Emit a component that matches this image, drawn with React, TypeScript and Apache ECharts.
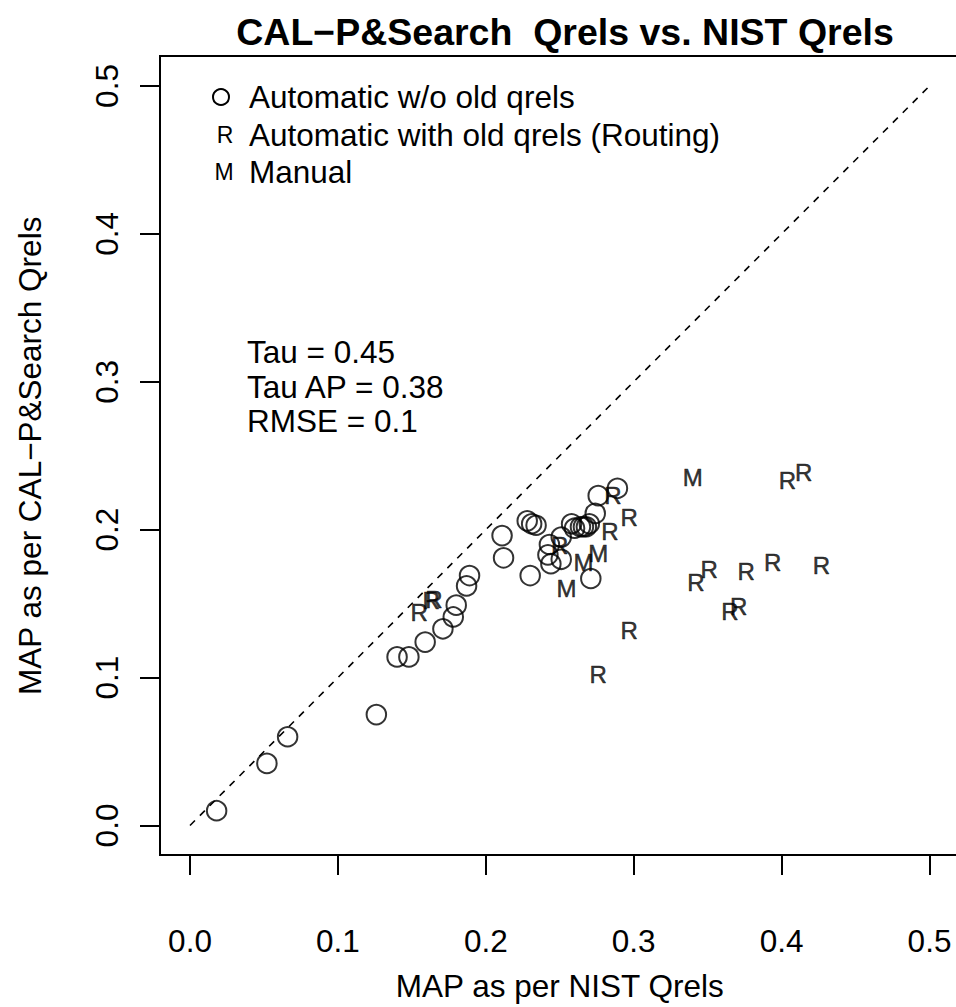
import React, { useEffect, useRef } from "react";
import * as echarts from "echarts";

// ---- data ----
const xTickValues = [0, 0.1, 0.2, 0.3, 0.4, 0.5];

const autoX = [0.018, 0.052, 0.066, 0.126, 0.140, 0.148, 0.159, 0.171, 0.178, 0.180, 0.187, 0.189, 0.211, 0.212, 0.228, 0.231, 0.234, 0.230, 0.243, 0.242, 0.244, 0.251, 0.251, 0.258, 0.260, 0.264, 0.266, 0.268, 0.270, 0.274, 0.276, 0.289, 0.271];
const autoY = [0.010, 0.042, 0.060, 0.075, 0.114, 0.114, 0.124, 0.133, 0.141, 0.149, 0.162, 0.169, 0.196, 0.181, 0.206, 0.204, 0.203, 0.169, 0.190, 0.183, 0.177, 0.180, 0.195, 0.204, 0.201, 0.202, 0.202, 0.202, 0.204, 0.211, 0.223, 0.228, 0.167];

const routX = [0.155, 0.163, 0.165, 0.250, 0.284, 0.286, 0.297, 0.297, 0.276, 0.342, 0.351, 0.376, 0.394, 0.427, 0.365, 0.371, 0.404, 0.415];
const routY = [0.144, 0.152, 0.153, 0.189, 0.199, 0.223, 0.208, 0.132, 0.102, 0.164, 0.173, 0.172, 0.178, 0.176, 0.145, 0.148, 0.233, 0.239];

const manX = [0.2545, 0.266, 0.276, 0.340];
const manY = [0.160, 0.178, 0.184, 0.235];

const refLineX = [0, 0.5];
const refLineY = [0, 0.5];

const legendLabels = ["Automatic w/o old qrels", "Automatic with old qrels (Routing)", "Manual"];
const statLines = ["Tau = 0.45", "Tau AP = 0.38", "RMSE = 0.1"];

const titleText = "CAL\u2212P&Search  Qrels vs. NIST Qrels";
const xName = "MAP as per NIST Qrels";
const yName = "MAP as per CAL\u2212P&Search Qrels";

const FONT = '"Liberation Sans", Arial, Helvetica, sans-serif';
const FS = 31.5;

const zip = (a: number[], b: number[]) => a.map((v, i) => [v, b[i]]);

export default function App() {
  const ref = useRef<HTMLDivElement>(null);
  useEffect(() => {
    if (!ref.current) return;
    const chart = echarts.init(ref.current, undefined, { renderer: "svg" });
    const axisCommon = {
      type: "value" as const,
      min: 0,
      max: 0.5,
      interval: 0.1,
      splitLine: { show: false },
      axisLine: { show: true, onZero: false, lineStyle: { color: "#000", width: 2 } },
      axisTick: { show: true, inside: false, length: 20, lineStyle: { color: "#000", width: 2 } },
      nameLocation: "middle" as const,
      nameGap: 114.5,
      nameTextStyle: { fontFamily: FONT, fontSize: FS, color: "#000" },
    };
    const textSeries = (name: string, xs: number[], ys: number[], ch: string) => ({
      type: "scatter",
      name,
      data: zip(xs, ys),
      symbol: "circle",
      symbolSize: 2,
      itemStyle: { color: "rgba(0,0,0,0)" },
      label: {
        show: true,
        position: "inside",
        formatter: ch,
        fontFamily: FONT,
        fontSize: 24,
        color: "#000",
        textBorderColor: "#000",
        textBorderWidth: 0.5,
      },
      emphasis: { disabled: true },
      silent: true,
      z: 3,
    });
    const legendY = [97, 135, 172];
    const statY = [352, 387, 421];
    chart.setOption({
      animation: false,
      backgroundColor: "#fff",
      title: {
        text: titleText,
        left: 560,
        top: 8,
        textAlign: "center",
        textStyle: { fontFamily: FONT, fontWeight: "bold", fontSize: 37.5, color: "#000" },
      },
      grid: { left: 190, top: 86, width: 739.5, height: 739.5, outerBoundsMode: "none" },
      xAxis: {
        ...axisCommon,
        position: "bottom",
        offset: 29.5,
        name: xName,
        axisLabel: {
          margin: 69.5,
          fontFamily: FONT,
          fontSize: FS,
          color: "#000",
          formatter: (v: number) => v.toFixed(1),
        },
        data: xTickValues,
      },
      yAxis: {
        ...axisCommon,
        position: "left",
        offset: 30,
        name: yName,
        axisLabel: {
          margin: 37.5,
          rotate: 90,
          fontFamily: FONT,
          fontSize: FS,
          color: "#000",
          formatter: (v: number) => v.toFixed(1),
        },
      },
      series: [
        {
          type: "line",
          name: "y = x",
          data: zip(refLineX, refLineY),
          symbol: "none",
          lineStyle: { color: "#000", width: 1.6, type: [7, 7] },
          silent: true,
          z: 1,
        },
        {
          type: "scatter",
          name: legendLabels[0],
          data: zip(autoX, autoY),
          symbol: "circle",
          symbolSize: 19.5,
          itemStyle: { color: "rgba(0,0,0,0)", borderColor: "#000", borderWidth: 2 },
          emphasis: { disabled: true },
          silent: true,
          z: 2,
        },
        textSeries(legendLabels[1], routX, routY, "R"),
        textSeries(legendLabels[2], manX, manY, "M"),
      ],
      graphic: [
        {
          type: "rect",
          shape: { x: 160, y: 56, width: 800, height: 799 },
          style: { fill: "none", stroke: "#000", lineWidth: 2 },
          silent: true,
          z: 0,
        },
        {
          type: "circle",
          shape: { cx: 221, cy: legendY[0], r: 8 },
          style: { fill: "none", stroke: "#000", lineWidth: 2 },
          silent: true,
        },
        {
          type: "text",
          x: 225,
          y: legendY[1],
          style: { text: "R", fontSize: 23, fontFamily: FONT, fill: "#000", align: "center", verticalAlign: "middle" },
          silent: true,
        },
        {
          type: "text",
          x: 224,
          y: legendY[2],
          style: { text: "M", fontSize: 23, fontFamily: FONT, fill: "#000", align: "center", verticalAlign: "middle" },
          silent: true,
        },
        ...legendLabels.map((t, i) => ({
          type: "text",
          x: 249,
          y: legendY[i],
          style: { text: t, fontSize: FS, fontFamily: FONT, fill: "#000", align: "left", verticalAlign: "middle" },
          silent: true,
        })),
        ...statLines.map((t, i) => ({
          type: "text",
          x: 247,
          y: statY[i],
          style: { text: t, fontSize: FS, fontFamily: FONT, fill: "#000", align: "left", verticalAlign: "middle" },
          silent: true,
        })),
      ],
    });
    return () => chart.dispose();
  }, []);
  return (
    <div
      ref={ref}
      style={{ position: "absolute", left: 0, top: 0, width: 956, height: 1007, background: "#fff" }}
    />
  );
}
